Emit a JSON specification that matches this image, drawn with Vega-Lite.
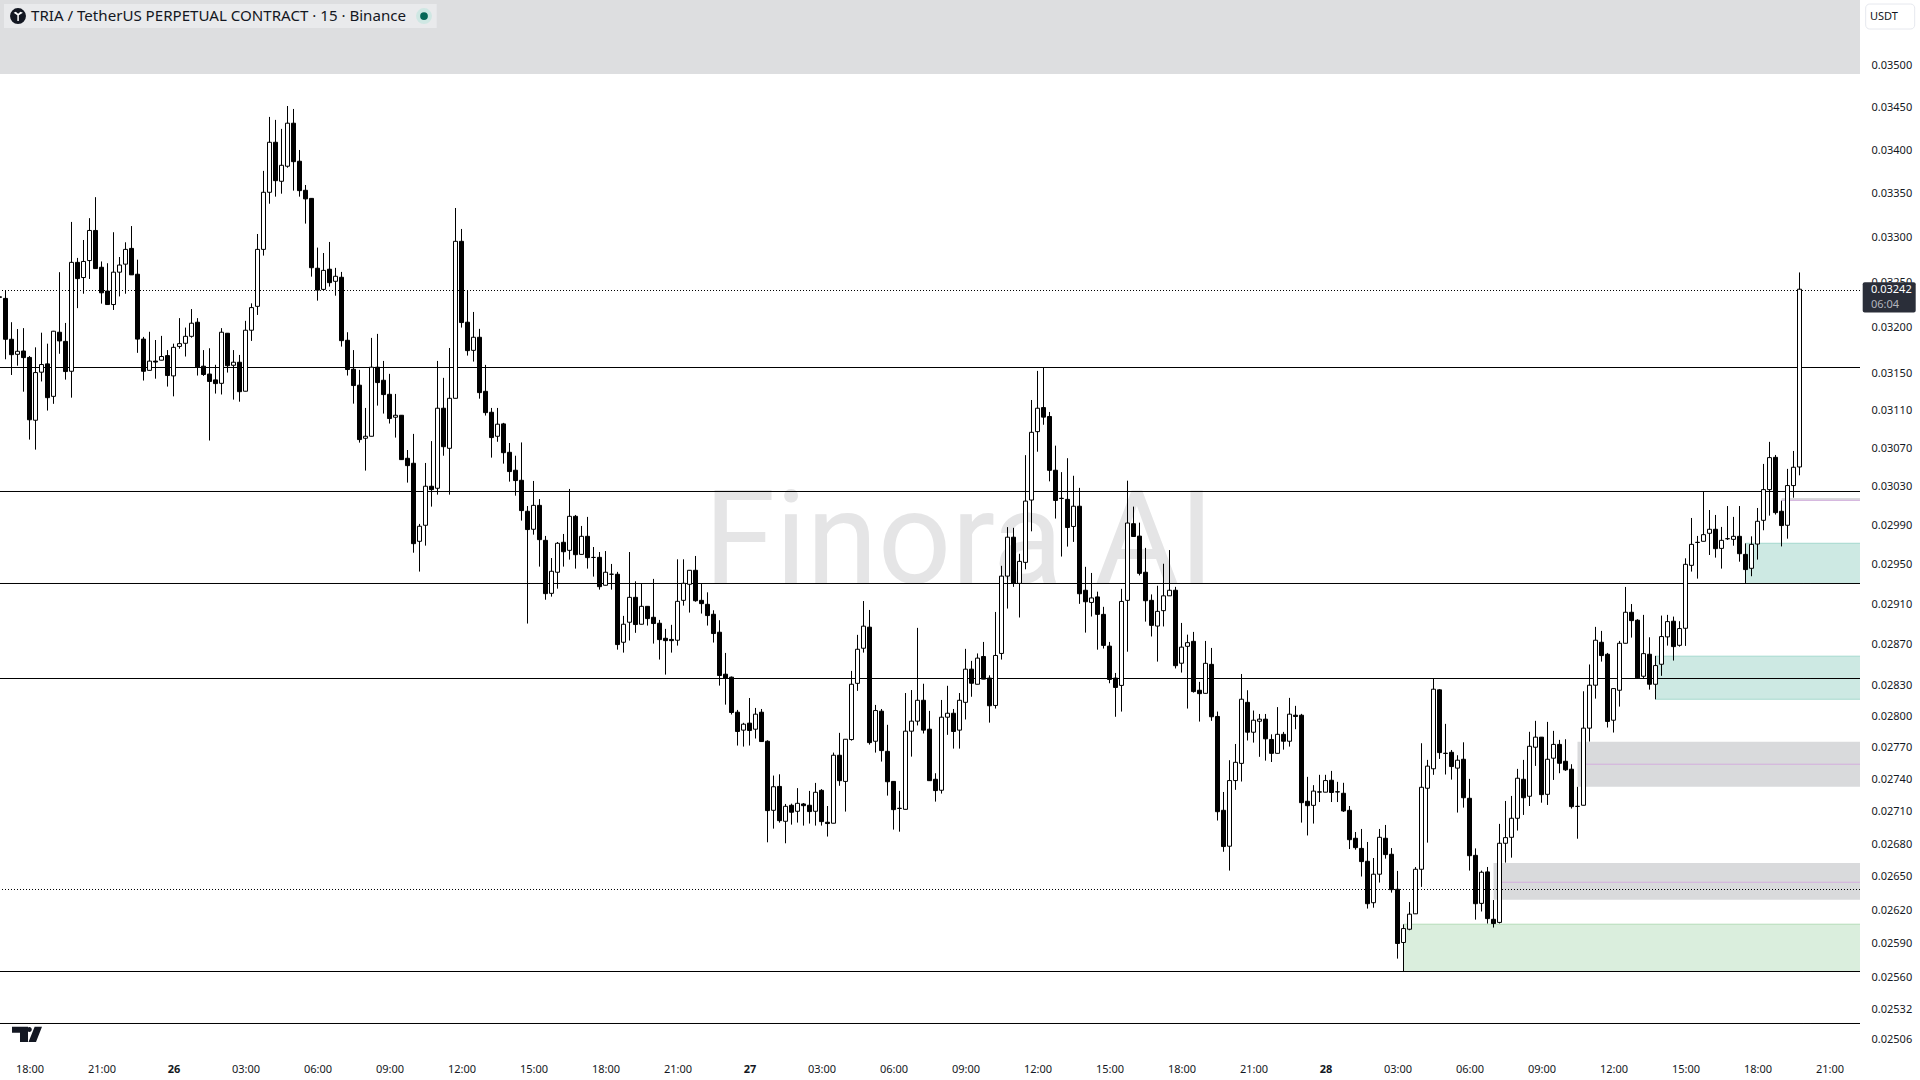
{
"$schema":"https://vega.github.io/schema/vega-lite/v6.json",
"autosize":{"type":"none"},
"width":1860,"height":1050,
"padding":{"left":0,"top":0,"right":60,"bottom":30},
"background":"#ffffff",
"config":{"view":{"stroke":null},"scale":{"continuousPadding":0}},
"datasets":{
"zones":[
{"t0":"2026-01-25T16:46:15Z","t1":"2026-01-28T22:16:15Z","top":0.03580149,"bottom":0.034904,"kind":"header"},
{"t0":"2026-01-28T03:15Z","t1":"2026-01-28T22:16:15Z","top":0.026074,"bottom":0.025654,"kind":"green"},
{"t0":"2026-01-28T07:00Z","t1":"2026-01-28T22:16:15Z","top":0.026628,"bottom":0.026294,"kind":"grey"},
{"t0":"2026-01-28T10:30Z","t1":"2026-01-28T22:16:15Z","top":0.027757,"bottom":0.027334,"kind":"grey"},
{"t0":"2026-01-28T13:45Z","t1":"2026-01-28T22:16:15Z","top":0.028585,"bottom":0.028166,"kind":"teal"},
{"t0":"2026-01-28T17:30Z","t1":"2026-01-28T22:16:15Z","top":0.029714,"bottom":0.029309,"kind":"teal"},
{"t0":"2026-01-28T19:00Z","t1":"2026-01-28T22:16:15Z","top":0.03018,"bottom":0.03015,"kind":"grey"}
],
"edges":[
{"t0":"2026-01-28T03:15Z","t1":"2026-01-28T22:16:15Z","p":0.026074,"kind":"greenEdge"},
{"t0":"2026-01-28T13:45Z","t1":"2026-01-28T22:16:15Z","p":0.028585,"kind":"tealEdge"},
{"t0":"2026-01-28T13:45Z","t1":"2026-01-28T22:16:15Z","p":0.028166,"kind":"tealEdge"},
{"t0":"2026-01-28T17:30Z","t1":"2026-01-28T22:16:15Z","p":0.029714,"kind":"tealEdge"},
{"t0":"2026-01-28T07:15Z","t1":"2026-01-28T22:16:15Z","p":0.026452,"kind":"purple"},
{"t0":"2026-01-28T10:45Z","t1":"2026-01-28T22:16:15Z","p":0.027545,"kind":"purple"},
{"t0":"2026-01-28T19:00Z","t1":"2026-01-28T22:16:15Z","p":0.030155,"kind":"purple"}
],
"levels":[
{"p":0.0324056,"style":"dotted"},
{"p":0.0315608,"style":"solid"},
{"p":0.0302465,"style":"solid"},
{"p":0.0293068,"style":"solid"},
{"p":0.0283670,"style":"solid"},
{"p":0.0263863,"style":"dotted"},
{"p":0.0256543,"style":"solid"},
{"p":0.0252008,"style":"solid"}
],
"candles":[
{"t":"2026-01-25T16:45Z","o":0.032335,"h":0.032335,"l":0.03233,"c":0.03233},
{"t":"2026-01-25T17:00Z","o":0.032318,"h":0.0324,"l":0.03165,"c":0.031868},
{"t":"2026-01-25T17:15Z","o":0.031868,"h":0.032055,"l":0.03148,"c":0.0317},
{"t":"2026-01-25T17:30Z","o":0.031704,"h":0.03198,"l":0.03158,"c":0.031737},
{"t":"2026-01-25T17:45Z","o":0.03174,"h":0.03199,"l":0.0313,"c":0.031668},
{"t":"2026-01-25T18:00Z","o":0.03167,"h":0.031686,"l":0.03079,"c":0.031},
{"t":"2026-01-25T18:15Z","o":0.030995,"h":0.03178,"l":0.030684,"c":0.031506},
{"t":"2026-01-25T18:30Z","o":0.03151,"h":0.03194,"l":0.03141,"c":0.031593},
{"t":"2026-01-25T18:45Z","o":0.0316,"h":0.03182,"l":0.031098,"c":0.031236},
{"t":"2026-01-25T19:00Z","o":0.03125,"h":0.03196,"l":0.03117,"c":0.031956},
{"t":"2026-01-25T19:15Z","o":0.031945,"h":0.03261,"l":0.03171,"c":0.03185},
{"t":"2026-01-25T19:30Z","o":0.031845,"h":0.032047,"l":0.03143,"c":0.031517},
{"t":"2026-01-25T19:45Z","o":0.03152,"h":0.033177,"l":0.031236,"c":0.03272},
{"t":"2026-01-25T20:00Z","o":0.03272,"h":0.03277,"l":0.03221,"c":0.032538},
{"t":"2026-01-25T20:15Z","o":0.03255,"h":0.032972,"l":0.03237,"c":0.03273},
{"t":"2026-01-25T20:30Z","o":0.03274,"h":0.03322,"l":0.032534,"c":0.03308},
{"t":"2026-01-25T20:45Z","o":0.03308,"h":0.03346,"l":0.03265,"c":0.03265},
{"t":"2026-01-25T21:00Z","o":0.032665,"h":0.03273,"l":0.03226,"c":0.03238},
{"t":"2026-01-25T21:15Z","o":0.0324,"h":0.03271,"l":0.03225,"c":0.03225},
{"t":"2026-01-25T21:30Z","o":0.03225,"h":0.03306,"l":0.03219,"c":0.03261},
{"t":"2026-01-25T21:45Z","o":0.03261,"h":0.03278,"l":0.03234,"c":0.03269},
{"t":"2026-01-25T22:00Z","o":0.0327,"h":0.032946,"l":0.03237,"c":0.032866},
{"t":"2026-01-25T22:15Z","o":0.032877,"h":0.03313,"l":0.03258,"c":0.03258},
{"t":"2026-01-25T22:30Z","o":0.032587,"h":0.03275,"l":0.03172,"c":0.03187},
{"t":"2026-01-25T22:45Z","o":0.03187,"h":0.031894,"l":0.03142,"c":0.03152},
{"t":"2026-01-25T23:00Z","o":0.03153,"h":0.03195,"l":0.03153,"c":0.03163},
{"t":"2026-01-25T23:15Z","o":0.03163,"h":0.03186,"l":0.03144,"c":0.03162},
{"t":"2026-01-25T23:30Z","o":0.03164,"h":0.031905,"l":0.03164,"c":0.03168},
{"t":"2026-01-25T23:45Z","o":0.03169,"h":0.03175,"l":0.031355,"c":0.031474},
{"t":"2026-01-26T00:00Z","o":0.03147,"h":0.03182,"l":0.03125,"c":0.03178},
{"t":"2026-01-26T00:15Z","o":0.03179,"h":0.0321,"l":0.031765,"c":0.03182},
{"t":"2026-01-26T00:30Z","o":0.031824,"h":0.031996,"l":0.03168,"c":0.0319},
{"t":"2026-01-26T00:45Z","o":0.0319,"h":0.0322,"l":0.031886,"c":0.032044},
{"t":"2026-01-26T01:00Z","o":0.032055,"h":0.0321,"l":0.031474,"c":0.031567},
{"t":"2026-01-26T01:15Z","o":0.031575,"h":0.03175,"l":0.03147,"c":0.031485},
{"t":"2026-01-26T01:30Z","o":0.03149,"h":0.03177,"l":0.03078,"c":0.03141},
{"t":"2026-01-26T01:45Z","o":0.031427,"h":0.03159,"l":0.03128,"c":0.031387},
{"t":"2026-01-26T02:00Z","o":0.03139,"h":0.03199,"l":0.03127,"c":0.031945},
{"t":"2026-01-26T02:15Z","o":0.031934,"h":0.031934,"l":0.031506,"c":0.03158},
{"t":"2026-01-26T02:30Z","o":0.031585,"h":0.03175,"l":0.031215,"c":0.031618},
{"t":"2026-01-26T02:45Z","o":0.031618,"h":0.031697,"l":0.031193,"c":0.0313},
{"t":"2026-01-26T03:00Z","o":0.031305,"h":0.03207,"l":0.031305,"c":0.031967},
{"t":"2026-01-26T03:15Z","o":0.031967,"h":0.032263,"l":0.03185,"c":0.032216},
{"t":"2026-01-26T03:30Z","o":0.03223,"h":0.03304,"l":0.032135,"c":0.032866},
{"t":"2026-01-26T03:45Z","o":0.032866,"h":0.033763,"l":0.032796,"c":0.033516},
{"t":"2026-01-26T04:00Z","o":0.033516,"h":0.034394,"l":0.033385,"c":0.034096},
{"t":"2026-01-26T04:15Z","o":0.034096,"h":0.034359,"l":0.033466,"c":0.03365},
{"t":"2026-01-26T04:30Z","o":0.033643,"h":0.034253,"l":0.0335,"c":0.033828},
{"t":"2026-01-26T04:45Z","o":0.033817,"h":0.034523,"l":0.0338,"c":0.03432},
{"t":"2026-01-26T05:00Z","o":0.03432,"h":0.034488,"l":0.033535,"c":0.03387},
{"t":"2026-01-26T05:15Z","o":0.033875,"h":0.034006,"l":0.033466,"c":0.033535},
{"t":"2026-01-26T05:30Z","o":0.033539,"h":0.0336,"l":0.033158,"c":0.03344},
{"t":"2026-01-26T05:45Z","o":0.033446,"h":0.033446,"l":0.03256,"c":0.03266},
{"t":"2026-01-26T06:00Z","o":0.032654,"h":0.032886,"l":0.032293,"c":0.03241},
{"t":"2026-01-26T06:15Z","o":0.032418,"h":0.032825,"l":0.032403,"c":0.03263},
{"t":"2026-01-26T06:30Z","o":0.032643,"h":0.03295,"l":0.032449,"c":0.032493},
{"t":"2026-01-26T06:45Z","o":0.032508,"h":0.032658,"l":0.032348,"c":0.032564},
{"t":"2026-01-26T07:00Z","o":0.032553,"h":0.032613,"l":0.031788,"c":0.031853},
{"t":"2026-01-26T07:15Z","o":0.031857,"h":0.031945,"l":0.031474,"c":0.031539},
{"t":"2026-01-26T07:30Z","o":0.031542,"h":0.03175,"l":0.031172,"c":0.031366},
{"t":"2026-01-26T07:45Z","o":0.03137,"h":0.031535,"l":0.030758,"c":0.03079},
{"t":"2026-01-26T08:00Z","o":0.030804,"h":0.031126,"l":0.030464,"c":0.030825},
{"t":"2026-01-26T08:15Z","o":0.030825,"h":0.031883,"l":0.030825,"c":0.031564},
{"t":"2026-01-26T08:30Z","o":0.031564,"h":0.031927,"l":0.031151,"c":0.031398},
{"t":"2026-01-26T08:45Z","o":0.031423,"h":0.031632,"l":0.031066,"c":0.031269},
{"t":"2026-01-26T09:00Z","o":0.031272,"h":0.031492,"l":0.03096,"c":0.031013},
{"t":"2026-01-26T09:15Z","o":0.031027,"h":0.031276,"l":0.030811,"c":0.031048},
{"t":"2026-01-26T09:30Z","o":0.031048,"h":0.031048,"l":0.030579,"c":0.030579},
{"t":"2026-01-26T09:45Z","o":0.030593,"h":0.03068,"l":0.030339,"c":0.030516},
{"t":"2026-01-26T10:00Z","o":0.030541,"h":0.03085,"l":0.029618,"c":0.02971},
{"t":"2026-01-26T10:15Z","o":0.029734,"h":0.029912,"l":0.029427,"c":0.029888},
{"t":"2026-01-26T10:30Z","o":0.029898,"h":0.030544,"l":0.02969,"c":0.030301},
{"t":"2026-01-26T10:45Z","o":0.030301,"h":0.030774,"l":0.03009,"c":0.030266},
{"t":"2026-01-26T11:00Z","o":0.03028,"h":0.031632,"l":0.030214,"c":0.031123},
{"t":"2026-01-26T11:15Z","o":0.031123,"h":0.031449,"l":0.03062,"c":0.030715},
{"t":"2026-01-26T11:30Z","o":0.030698,"h":0.031773,"l":0.030214,"c":0.031229},
{"t":"2026-01-26T11:45Z","o":0.031229,"h":0.033336,"l":0.031229,"c":0.032957},
{"t":"2026-01-26T12:00Z","o":0.032957,"h":0.033097,"l":0.031996,"c":0.032051},
{"t":"2026-01-26T12:15Z","o":0.032055,"h":0.0324,"l":0.03169,"c":0.031744},
{"t":"2026-01-26T12:30Z","o":0.031747,"h":0.032168,"l":0.031625,"c":0.03189},
{"t":"2026-01-26T12:45Z","o":0.03189,"h":0.031982,"l":0.031225,"c":0.03129},
{"t":"2026-01-26T13:00Z","o":0.031304,"h":0.031589,"l":0.031045,"c":0.031076},
{"t":"2026-01-26T13:15Z","o":0.03108,"h":0.031126,"l":0.0306,"c":0.030811},
{"t":"2026-01-26T13:30Z","o":0.030825,"h":0.031126,"l":0.030767,"c":0.030953},
{"t":"2026-01-26T13:45Z","o":0.030956,"h":0.030967,"l":0.030537,"c":0.030652},
{"t":"2026-01-26T14:00Z","o":0.030656,"h":0.030754,"l":0.030349,"c":0.030454},
{"t":"2026-01-26T14:15Z","o":0.030468,"h":0.03062,"l":0.030203,"c":0.03036},
{"t":"2026-01-26T14:30Z","o":0.030363,"h":0.03076,"l":0.029946,"c":0.030049},
{"t":"2026-01-26T14:45Z","o":0.030042,"h":0.030096,"l":0.028907,"c":0.029854},
{"t":"2026-01-26T15:00Z","o":0.029857,"h":0.030356,"l":0.029802,"c":0.030103},
{"t":"2026-01-26T15:15Z","o":0.030103,"h":0.030168,"l":0.029477,"c":0.029751},
{"t":"2026-01-26T15:30Z","o":0.029744,"h":0.029789,"l":0.029144,"c":0.029205},
{"t":"2026-01-26T15:45Z","o":0.029208,"h":0.029564,"l":0.029175,"c":0.02943},
{"t":"2026-01-26T16:00Z","o":0.02942,"h":0.029727,"l":0.029255,"c":0.029714},
{"t":"2026-01-26T16:15Z","o":0.029724,"h":0.029809,"l":0.029477,"c":0.029628},
{"t":"2026-01-26T16:30Z","o":0.029642,"h":0.030273,"l":0.029548,"c":0.02999},
{"t":"2026-01-26T16:45Z","o":0.02999,"h":0.030004,"l":0.029457,"c":0.029598},
{"t":"2026-01-26T17:00Z","o":0.029601,"h":0.029891,"l":0.029601,"c":0.029785},
{"t":"2026-01-26T17:15Z","o":0.029785,"h":0.029984,"l":0.029457,"c":0.029568},
{"t":"2026-01-26T17:30Z","o":0.02957,"h":0.029676,"l":0.029376,"c":0.02957},
{"t":"2026-01-26T17:45Z","o":0.029571,"h":0.029625,"l":0.029245,"c":0.029275},
{"t":"2026-01-26T18:00Z","o":0.029289,"h":0.029635,"l":0.029289,"c":0.02942},
{"t":"2026-01-26T18:15Z","o":0.0294,"h":0.029504,"l":0.029245,"c":0.0294},
{"t":"2026-01-26T18:30Z","o":0.0294,"h":0.029424,"l":0.028649,"c":0.028699},
{"t":"2026-01-26T18:45Z","o":0.028722,"h":0.028983,"l":0.02862,"c":0.0289},
{"t":"2026-01-26T19:00Z","o":0.02892,"h":0.029625,"l":0.028739,"c":0.029168},
{"t":"2026-01-26T19:15Z","o":0.029168,"h":0.029329,"l":0.028815,"c":0.028897},
{"t":"2026-01-26T19:30Z","o":0.0289,"h":0.029309,"l":0.0289,"c":0.029078},
{"t":"2026-01-26T19:45Z","o":0.029078,"h":0.029078,"l":0.028887,"c":0.028956},
{"t":"2026-01-26T20:00Z","o":0.028969,"h":0.029353,"l":0.028709,"c":0.028907},
{"t":"2026-01-26T20:15Z","o":0.02891,"h":0.028943,"l":0.028552,"c":0.028748},
{"t":"2026-01-26T20:30Z","o":0.028761,"h":0.028854,"l":0.028405,"c":0.028738},
{"t":"2026-01-26T20:45Z","o":0.02875,"h":0.028894,"l":0.02862,"c":0.028738},
{"t":"2026-01-26T21:00Z","o":0.028742,"h":0.029551,"l":0.028689,"c":0.029128},
{"t":"2026-01-26T21:15Z","o":0.029138,"h":0.029551,"l":0.029085,"c":0.029309},
{"t":"2026-01-26T21:30Z","o":0.029299,"h":0.02944,"l":0.029016,"c":0.02944},
{"t":"2026-01-26T21:45Z","o":0.02944,"h":0.029585,"l":0.029124,"c":0.029134},
{"t":"2026-01-26T22:00Z","o":0.029138,"h":0.029309,"l":0.029006,"c":0.029105},
{"t":"2026-01-26T22:15Z","o":0.029098,"h":0.029218,"l":0.028887,"c":0.028986},
{"t":"2026-01-26T22:30Z","o":0.028999,"h":0.029039,"l":0.028719,"c":0.028808},
{"t":"2026-01-26T22:45Z","o":0.028821,"h":0.02894,"l":0.028298,"c":0.028396},
{"t":"2026-01-26T23:00Z","o":0.028409,"h":0.028617,"l":0.028114,"c":0.02837},
{"t":"2026-01-26T23:15Z","o":0.02838,"h":0.028386,"l":0.028019,"c":0.028038},
{"t":"2026-01-26T23:30Z","o":0.028041,"h":0.028063,"l":0.027722,"c":0.027856},
{"t":"2026-01-26T23:45Z","o":0.027869,"h":0.027939,"l":0.027712,"c":0.027926},
{"t":"2026-01-27T00:00Z","o":0.027936,"h":0.028178,"l":0.027722,"c":0.027866},
{"t":"2026-01-27T00:15Z","o":0.027878,"h":0.028082,"l":0.027789,"c":0.028022},
{"t":"2026-01-27T00:30Z","o":0.028041,"h":0.028072,"l":0.02776,"c":0.02776},
{"t":"2026-01-27T00:45Z","o":0.027763,"h":0.027772,"l":0.026817,"c":0.02711},
{"t":"2026-01-27T01:00Z","o":0.027113,"h":0.027438,"l":0.026943,"c":0.027333},
{"t":"2026-01-27T01:15Z","o":0.027336,"h":0.02745,"l":0.026999,"c":0.027017},
{"t":"2026-01-27T01:30Z","o":0.027011,"h":0.027172,"l":0.026808,"c":0.02715},
{"t":"2026-01-27T01:45Z","o":0.02716,"h":0.027175,"l":0.02698,"c":0.027095},
{"t":"2026-01-27T02:00Z","o":0.027104,"h":0.02732,"l":0.026999,"c":0.027178},
{"t":"2026-01-27T02:15Z","o":0.027172,"h":0.027181,"l":0.026971,"c":0.027156},
{"t":"2026-01-27T02:30Z","o":0.02716,"h":0.027294,"l":0.02699,"c":0.027101},
{"t":"2026-01-27T02:45Z","o":0.027104,"h":0.027369,"l":0.026971,"c":0.027281},
{"t":"2026-01-27T03:00Z","o":0.027299,"h":0.027311,"l":0.026971,"c":0.027008},
{"t":"2026-01-27T03:15Z","o":0.027002,"h":0.027153,"l":0.02687,"c":0.02699},
{"t":"2026-01-27T03:30Z","o":0.026993,"h":0.027655,"l":0.026993,"c":0.02763},
{"t":"2026-01-27T03:45Z","o":0.02763,"h":0.027843,"l":0.027342,"c":0.02739},
{"t":"2026-01-27T04:00Z","o":0.027383,"h":0.027782,"l":0.027101,"c":0.027782},
{"t":"2026-01-27T04:15Z","o":0.027779,"h":0.028441,"l":0.027769,"c":0.028311},
{"t":"2026-01-27T04:30Z","o":0.02832,"h":0.028795,"l":0.028247,"c":0.028653},
{"t":"2026-01-27T04:45Z","o":0.028663,"h":0.029131,"l":0.02862,"c":0.028881},
{"t":"2026-01-27T05:00Z","o":0.028871,"h":0.029042,"l":0.027731,"c":0.02775},
{"t":"2026-01-27T05:15Z","o":0.027763,"h":0.028111,"l":0.027655,"c":0.028057},
{"t":"2026-01-27T05:30Z","o":0.028051,"h":0.028072,"l":0.02757,"c":0.027674},
{"t":"2026-01-27T05:45Z","o":0.027667,"h":0.02792,"l":0.02725,"c":0.02738},
{"t":"2026-01-27T06:00Z","o":0.027383,"h":0.027383,"l":0.026934,"c":0.027119},
{"t":"2026-01-27T06:15Z","o":0.027132,"h":0.027294,"l":0.026915,"c":0.02713},
{"t":"2026-01-27T06:30Z","o":0.027122,"h":0.028226,"l":0.027122,"c":0.027859},
{"t":"2026-01-27T06:45Z","o":0.027859,"h":0.028255,"l":0.027617,"c":0.027955},
{"t":"2026-01-27T07:00Z","o":0.027955,"h":0.028864,"l":0.027914,"c":0.028156},
{"t":"2026-01-27T07:15Z","o":0.028156,"h":0.028316,"l":0.027837,"c":0.027869},
{"t":"2026-01-27T07:30Z","o":0.027878,"h":0.028054,"l":0.02739,"c":0.02739},
{"t":"2026-01-27T07:45Z","o":0.027403,"h":0.02746,"l":0.027194,"c":0.027297},
{"t":"2026-01-27T08:00Z","o":0.0273,"h":0.028159,"l":0.027269,"c":0.027993},
{"t":"2026-01-27T08:15Z","o":0.027993,"h":0.028296,"l":0.027824,"c":0.028031},
{"t":"2026-01-27T08:30Z","o":0.028031,"h":0.028072,"l":0.027693,"c":0.027856},
{"t":"2026-01-27T08:45Z","o":0.027869,"h":0.028226,"l":0.027693,"c":0.028156},
{"t":"2026-01-27T09:00Z","o":0.028136,"h":0.028657,"l":0.027971,"c":0.028458},
{"t":"2026-01-27T09:15Z","o":0.028458,"h":0.028539,"l":0.02819,"c":0.028321},
{"t":"2026-01-27T09:30Z","o":0.028311,"h":0.028612,"l":0.028311,"c":0.028566},
{"t":"2026-01-27T09:45Z","o":0.028582,"h":0.028725,"l":0.028361,"c":0.028361},
{"t":"2026-01-27T10:00Z","o":0.028371,"h":0.028398,"l":0.027941,"c":0.028103},
{"t":"2026-01-27T10:15Z","o":0.028106,"h":0.029022,"l":0.028076,"c":0.028592},
{"t":"2026-01-27T10:30Z","o":0.028612,"h":0.029485,"l":0.028552,"c":0.029381},
{"t":"2026-01-27T10:45Z","o":0.029381,"h":0.029879,"l":0.029056,"c":0.029776},
{"t":"2026-01-27T11:00Z","o":0.029776,"h":0.029872,"l":0.029273,"c":0.029308},
{"t":"2026-01-27T11:15Z","o":0.029308,"h":0.029607,"l":0.028967,"c":0.02953},
{"t":"2026-01-27T11:30Z","o":0.02952,"h":0.030626,"l":0.02945,"c":0.030147},
{"t":"2026-01-27T11:45Z","o":0.030158,"h":0.031211,"l":0.029836,"c":0.030867},
{"t":"2026-01-27T12:00Z","o":0.030874,"h":0.031524,"l":0.030662,"c":0.031123},
{"t":"2026-01-27T12:15Z","o":0.03113,"h":0.031565,"l":0.030947,"c":0.031028},
{"t":"2026-01-27T12:30Z","o":0.031035,"h":0.031083,"l":0.030352,"c":0.030467},
{"t":"2026-01-27T12:45Z","o":0.030468,"h":0.030726,"l":0.029967,"c":0.030154},
{"t":"2026-01-27T13:00Z","o":0.030176,"h":0.030448,"l":0.029579,"c":0.030174},
{"t":"2026-01-27T13:15Z","o":0.030165,"h":0.030594,"l":0.02968,"c":0.029875},
{"t":"2026-01-27T13:30Z","o":0.029886,"h":0.03041,"l":0.029728,"c":0.030094},
{"t":"2026-01-27T13:45Z","o":0.030094,"h":0.030284,"l":0.029103,"c":0.029204},
{"t":"2026-01-27T14:00Z","o":0.029239,"h":0.029475,"l":0.028817,"c":0.029124},
{"t":"2026-01-27T14:15Z","o":0.029117,"h":0.029413,"l":0.028977,"c":0.029162},
{"t":"2026-01-27T14:30Z","o":0.029172,"h":0.029225,"l":0.028649,"c":0.028998},
{"t":"2026-01-27T14:45Z","o":0.028998,"h":0.029073,"l":0.02866,"c":0.028691},
{"t":"2026-01-27T15:00Z","o":0.028684,"h":0.028725,"l":0.028321,"c":0.028358},
{"t":"2026-01-27T15:15Z","o":0.028371,"h":0.028421,"l":0.027997,"c":0.02828},
{"t":"2026-01-27T15:30Z","o":0.0283,"h":0.029253,"l":0.028047,"c":0.029127},
{"t":"2026-01-27T15:45Z","o":0.029138,"h":0.030359,"l":0.028629,"c":0.029921},
{"t":"2026-01-27T16:00Z","o":0.029914,"h":0.03009,"l":0.029783,"c":0.029783},
{"t":"2026-01-27T16:15Z","o":0.029787,"h":0.029925,"l":0.029388,"c":0.029409},
{"t":"2026-01-27T16:30Z","o":0.02942,"h":0.029667,"l":0.028926,"c":0.029134},
{"t":"2026-01-27T16:45Z","o":0.029138,"h":0.029197,"l":0.028779,"c":0.028889},
{"t":"2026-01-27T17:00Z","o":0.028882,"h":0.029284,"l":0.028532,"c":0.029028},
{"t":"2026-01-27T17:15Z","o":0.029035,"h":0.029506,"l":0.028878,"c":0.029183},
{"t":"2026-01-27T17:30Z","o":0.029183,"h":0.029645,"l":0.029183,"c":0.029239},
{"t":"2026-01-27T17:45Z","o":0.029239,"h":0.029273,"l":0.028465,"c":0.028492},
{"t":"2026-01-27T18:00Z","o":0.028516,"h":0.028913,"l":0.028425,"c":0.028674},
{"t":"2026-01-27T18:15Z","o":0.028682,"h":0.028797,"l":0.028076,"c":0.028718},
{"t":"2026-01-27T18:30Z","o":0.028731,"h":0.028824,"l":0.02823,"c":0.02824},
{"t":"2026-01-27T18:45Z","o":0.028253,"h":0.028334,"l":0.027951,"c":0.02822},
{"t":"2026-01-27T19:00Z","o":0.028223,"h":0.028735,"l":0.028223,"c":0.028515},
{"t":"2026-01-27T19:15Z","o":0.028505,"h":0.028666,"l":0.027958,"c":0.027997},
{"t":"2026-01-27T19:30Z","o":0.028,"h":0.028047,"l":0.027018,"c":0.0271},
{"t":"2026-01-27T19:45Z","o":0.027113,"h":0.027284,"l":0.02673,"c":0.026778},
{"t":"2026-01-27T20:00Z","o":0.026781,"h":0.027583,"l":0.026558,"c":0.027391},
{"t":"2026-01-27T20:15Z","o":0.027391,"h":0.027737,"l":0.027304,"c":0.027563},
{"t":"2026-01-27T20:30Z","o":0.027553,"h":0.028411,"l":0.027382,"c":0.028166},
{"t":"2026-01-27T20:45Z","o":0.028136,"h":0.028253,"l":0.02777,"c":0.027849},
{"t":"2026-01-27T21:00Z","o":0.027849,"h":0.028057,"l":0.02775,"c":0.027964},
{"t":"2026-01-27T21:15Z","o":0.027954,"h":0.028024,"l":0.027615,"c":0.027974},
{"t":"2026-01-27T21:30Z","o":0.027974,"h":0.028024,"l":0.027579,"c":0.027786},
{"t":"2026-01-27T21:45Z","o":0.02778,"h":0.027829,"l":0.027566,"c":0.027648},
{"t":"2026-01-27T22:00Z","o":0.027648,"h":0.02809,"l":0.027648,"c":0.027829},
{"t":"2026-01-27T22:15Z","o":0.027829,"h":0.027852,"l":0.027683,"c":0.027763},
{"t":"2026-01-27T22:30Z","o":0.027763,"h":0.028179,"l":0.027712,"c":0.028022},
{"t":"2026-01-27T22:45Z","o":0.028012,"h":0.028102,"l":0.027878,"c":0.028},
{"t":"2026-01-27T23:00Z","o":0.028012,"h":0.028025,"l":0.026999,"c":0.027184},
{"t":"2026-01-27T23:15Z","o":0.027197,"h":0.027426,"l":0.02688,"c":0.027156},
{"t":"2026-01-27T23:30Z","o":0.027159,"h":0.027348,"l":0.02699,"c":0.027292},
{"t":"2026-01-27T23:45Z","o":0.027285,"h":0.027445,"l":0.02719,"c":0.027283},
{"t":"2026-01-28T00:00Z","o":0.027282,"h":0.027445,"l":0.027282,"c":0.027391},
{"t":"2026-01-28T00:15Z","o":0.027394,"h":0.027482,"l":0.02719,"c":0.027279},
{"t":"2026-01-28T00:30Z","o":0.027286,"h":0.027379,"l":0.02719,"c":0.027284},
{"t":"2026-01-28T00:45Z","o":0.027272,"h":0.02737,"l":0.027098,"c":0.027107},
{"t":"2026-01-28T01:00Z","o":0.027113,"h":0.027153,"l":0.026755,"c":0.026841},
{"t":"2026-01-28T01:15Z","o":0.026854,"h":0.026912,"l":0.026749,"c":0.026768},
{"t":"2026-01-28T01:30Z","o":0.026761,"h":0.02694,"l":0.026504,"c":0.02664},
{"t":"2026-01-28T01:45Z","o":0.026643,"h":0.02682,"l":0.026214,"c":0.026258},
{"t":"2026-01-28T02:00Z","o":0.026267,"h":0.026673,"l":0.026222,"c":0.026525},
{"t":"2026-01-28T02:15Z","o":0.026525,"h":0.02694,"l":0.026449,"c":0.026863},
{"t":"2026-01-28T02:30Z","o":0.026854,"h":0.026977,"l":0.026667,"c":0.026704},
{"t":"2026-01-28T02:45Z","o":0.026707,"h":0.026764,"l":0.026358,"c":0.026385},
{"t":"2026-01-28T03:00Z","o":0.026388,"h":0.026555,"l":0.025768,"c":0.025902},
{"t":"2026-01-28T03:15Z","o":0.025911,"h":0.026073,"l":0.025654,"c":0.026035},
{"t":"2026-01-28T03:30Z","o":0.026029,"h":0.026273,"l":0.02602,"c":0.026164},
{"t":"2026-01-28T03:45Z","o":0.026167,"h":0.02659,"l":0.026167,"c":0.02657},
{"t":"2026-01-28T04:00Z","o":0.02657,"h":0.027744,"l":0.02641,"c":0.027328},
{"t":"2026-01-28T04:15Z","o":0.027319,"h":0.027586,"l":0.026814,"c":0.027527},
{"t":"2026-01-28T04:30Z","o":0.027502,"h":0.02837,"l":0.027445,"c":0.028263},
{"t":"2026-01-28T04:45Z","o":0.028257,"h":0.028263,"l":0.027595,"c":0.027655},
{"t":"2026-01-28T05:00Z","o":0.027649,"h":0.027929,"l":0.027448,"c":0.027647},
{"t":"2026-01-28T05:15Z","o":0.027658,"h":0.02768,"l":0.0274,"c":0.027523},
{"t":"2026-01-28T05:30Z","o":0.027508,"h":0.02763,"l":0.027092,"c":0.027583},
{"t":"2026-01-28T05:45Z","o":0.027592,"h":0.027753,"l":0.027138,"c":0.02723},
{"t":"2026-01-28T06:00Z","o":0.027225,"h":0.027407,"l":0.026558,"c":0.026694},
{"t":"2026-01-28T06:15Z","o":0.026697,"h":0.026761,"l":0.026115,"c":0.026258},
{"t":"2026-01-28T06:30Z","o":0.026261,"h":0.026558,"l":0.026188,"c":0.026543},
{"t":"2026-01-28T06:45Z","o":0.026546,"h":0.026591,"l":0.02608,"c":0.026124},
{"t":"2026-01-28T07:00Z","o":0.026118,"h":0.026291,"l":0.026044,"c":0.02608},
{"t":"2026-01-28T07:15Z","o":0.02609,"h":0.026987,"l":0.026081,"c":0.026808},
{"t":"2026-01-28T07:30Z","o":0.026808,"h":0.0272,"l":0.026631,"c":0.02686},
{"t":"2026-01-28T07:45Z","o":0.026863,"h":0.027247,"l":0.026676,"c":0.027039},
{"t":"2026-01-28T08:00Z","o":0.027039,"h":0.027501,"l":0.026925,"c":0.027413},
{"t":"2026-01-28T08:15Z","o":0.027403,"h":0.027586,"l":0.02707,"c":0.02723},
{"t":"2026-01-28T08:30Z","o":0.027244,"h":0.027853,"l":0.027153,"c":0.027715},
{"t":"2026-01-28T08:45Z","o":0.027706,"h":0.027958,"l":0.027529,"c":0.027802},
{"t":"2026-01-28T09:00Z","o":0.027802,"h":0.027802,"l":0.027184,"c":0.027259},
{"t":"2026-01-28T09:15Z","o":0.027262,"h":0.027948,"l":0.027163,"c":0.027592},
{"t":"2026-01-28T09:30Z","o":0.027602,"h":0.027862,"l":0.027397,"c":0.027733},
{"t":"2026-01-28T09:45Z","o":0.027733,"h":0.027776,"l":0.02746,"c":0.027554},
{"t":"2026-01-28T10:00Z","o":0.027573,"h":0.027782,"l":0.027482,"c":0.027492},
{"t":"2026-01-28T10:15Z","o":0.027498,"h":0.027545,"l":0.027129,"c":0.027147},
{"t":"2026-01-28T10:30Z","o":0.02715,"h":0.027332,"l":0.02685,"c":0.027149},
{"t":"2026-01-28T10:45Z","o":0.02716,"h":0.028243,"l":0.02716,"c":0.027888},
{"t":"2026-01-28T11:00Z","o":0.027888,"h":0.028504,"l":0.02776,"c":0.028302},
{"t":"2026-01-28T11:15Z","o":0.028302,"h":0.028874,"l":0.028172,"c":0.028742},
{"t":"2026-01-28T11:30Z","o":0.028722,"h":0.028834,"l":0.028532,"c":0.028591},
{"t":"2026-01-28T11:45Z","o":0.028604,"h":0.028617,"l":0.027894,"c":0.027952},
{"t":"2026-01-28T12:00Z","o":0.027964,"h":0.028269,"l":0.027846,"c":0.028269},
{"t":"2026-01-28T12:15Z","o":0.028253,"h":0.028735,"l":0.028095,"c":0.028712},
{"t":"2026-01-28T12:30Z","o":0.028712,"h":0.029272,"l":0.028712,"c":0.029019},
{"t":"2026-01-28T12:45Z","o":0.029019,"h":0.029101,"l":0.028768,"c":0.028936},
{"t":"2026-01-28T13:00Z","o":0.02894,"h":0.02895,"l":0.028373,"c":0.028373},
{"t":"2026-01-28T13:15Z","o":0.028389,"h":0.028993,"l":0.02837,"c":0.02861},
{"t":"2026-01-28T13:30Z","o":0.028604,"h":0.028771,"l":0.028259,"c":0.028311},
{"t":"2026-01-28T13:45Z","o":0.028311,"h":0.028588,"l":0.028165,"c":0.028493},
{"t":"2026-01-28T14:00Z","o":0.028506,"h":0.028986,"l":0.028393,"c":0.028778},
{"t":"2026-01-28T14:15Z","o":0.028775,"h":0.028993,"l":0.028689,"c":0.028926},
{"t":"2026-01-28T14:30Z","o":0.02893,"h":0.028976,"l":0.028542,"c":0.028679},
{"t":"2026-01-28T14:45Z","o":0.028692,"h":0.02893,"l":0.028679,"c":0.028857},
{"t":"2026-01-28T15:00Z","o":0.02886,"h":0.029561,"l":0.028686,"c":0.0295},
{"t":"2026-01-28T15:15Z","o":0.02949,"h":0.029973,"l":0.029427,"c":0.029703},
{"t":"2026-01-28T15:30Z","o":0.029724,"h":0.029789,"l":0.029356,"c":0.029722},
{"t":"2026-01-28T15:45Z","o":0.029734,"h":0.030249,"l":0.029734,"c":0.029802},
{"t":"2026-01-28T16:00Z","o":0.029816,"h":0.030055,"l":0.029595,"c":0.029857},
{"t":"2026-01-28T16:15Z","o":0.029857,"h":0.030004,"l":0.029568,"c":0.029659},
{"t":"2026-01-28T16:30Z","o":0.029662,"h":0.029881,"l":0.029457,"c":0.029744},
{"t":"2026-01-28T16:45Z","o":0.029761,"h":0.030096,"l":0.029748,"c":0.02976},
{"t":"2026-01-28T17:00Z","o":0.029754,"h":0.029984,"l":0.029689,"c":0.029785},
{"t":"2026-01-28T17:15Z","o":0.029785,"h":0.030096,"l":0.029527,"c":0.029608},
{"t":"2026-01-28T17:30Z","o":0.029601,"h":0.029713,"l":0.029309,"c":0.029447},
{"t":"2026-01-28T17:45Z","o":0.02946,"h":0.029785,"l":0.02938,"c":0.029703},
{"t":"2026-01-28T18:00Z","o":0.029706,"h":0.030076,"l":0.029548,"c":0.029939},
{"t":"2026-01-28T18:15Z","o":0.029949,"h":0.030534,"l":0.029847,"c":0.030266},
{"t":"2026-01-28T18:30Z","o":0.030266,"h":0.030766,"l":0.029997,"c":0.0306},
{"t":"2026-01-28T18:45Z","o":0.030603,"h":0.030628,"l":0.030008,"c":0.030028},
{"t":"2026-01-28T19:00Z","o":0.030042,"h":0.030151,"l":0.029682,"c":0.029895},
{"t":"2026-01-28T19:15Z","o":0.029898,"h":0.030482,"l":0.029761,"c":0.030308},
{"t":"2026-01-28T19:30Z","o":0.030308,"h":0.03067,"l":0.030182,"c":0.030499},
{"t":"2026-01-28T19:45Z","o":0.030502,"h":0.032607,"l":0.030415,"c":0.03242}
]
},
"layer":[
{"data":{"name":"zones"},"mark":{"type":"rect"},"encoding":{
"x":{"field":"t0","type":"temporal","title":null,"scale":{"type":"utc","domain":[1769359575000,1769638575000]},"axis":{"title":null,"domain":false,"ticks":false,"grid":false,"labelFont":"Noto Sans","labelFontSize":11,"labelColor":"#131722","labelPadding":13,"values":[1769364000000,1769374800000,1769385600000,1769396400000,1769407200000,1769418000000,1769428800000,1769439600000,1769450400000,1769461200000,1769472000000,1769482800000,1769493600000,1769504400000,1769515200000,1769526000000,1769536800000,1769547600000,1769558400000,1769569200000,1769580000000,1769590800000,1769601600000,1769612400000,1769623200000,1769634000000],"labelExpr":"utchours(datum.value)==0?utcFormat(datum.value,'%d'):utcFormat(datum.value,'%H:%M')","labelFontWeight":{"condition":{"test":"utchours(datum.value)==0","value":"bold"},"value":"normal"},"labelFlush":false,"labelOverlap":false}},
"x2":{"field":"t1"},
"y":{"field":"top","type":"quantitative","title":null,"scale":{"type":"log","domain":[0.02497271,0.03580149],"nice":false},"axis":{"title":null,"orient":"right","domain":false,"ticks":false,"grid":false,"labelFont":"Noto Sans","labelFontSize":11,"labelColor":"#131722","labelPadding":11,"format":".5f","labelOverlap":false,"labelFlush":false,"values":[0.035,0.0345,0.034,0.0335,0.033,0.0325,0.032,0.0315,0.0311,0.0307,0.0303,0.0299,0.0295,0.0291,0.0287,0.0283,0.028,0.0277,0.0274,0.0271,0.0268,0.0265,0.0262,0.0259,0.0256,0.02532,0.02506]}},
"y2":{"field":"bottom"},
"color":{"field":"kind","type":"nominal","legend":null,"scale":{"domain":["header","grey","green","teal","greenEdge","tealEdge","purple"],"range":["#dddee0","#d9dadc","#daeedd","#cde9e3","#b4dcb9","#a5d9ce","#d3aede"]}}
}},
{"data":{"name":"edges"},"mark":{"type":"rule","strokeWidth":1},"encoding":{
"x":{"field":"t0","type":"temporal","title":null,"scale":{"type":"utc","domain":[1769359575000,1769638575000]}},
"x2":{"field":"t1"},
"y":{"field":"p","type":"quantitative","title":null,"scale":{"type":"log","domain":[0.02497271,0.03580149],"nice":false}},
"color":{"field":"kind","type":"nominal","legend":null,"scale":{"domain":["header","grey","green","teal","greenEdge","tealEdge","purple"],"range":["#dddee0","#d9dadc","#daeedd","#cde9e3","#b4dcb9","#a5d9ce","#d3aede"]}}
}},
{"data":{"values":[{"t":"2026-01-27T08:43:45Z","p":0.0293068,"label":"Finora AI"}]},"mark":{"type":"text","font":"Roboto","fontSize":129,"align":"center","baseline":"alphabetic","color":"#e5e5e6"},"encoding":{
"x":{"field":"t","type":"temporal","title":null,"scale":{"type":"utc","domain":[1769359575000,1769638575000]}},
"y":{"field":"p","type":"quantitative","title":null,"scale":{"type":"log","domain":[0.02497271,0.03580149],"nice":false}},
"text":{"field":"label"}
}},
{"data":{"name":"levels"},"mark":{"type":"rule","strokeWidth":1,"color":"#000000"},"encoding":{
"y":{"field":"p","type":"quantitative","title":null,"scale":{"type":"log","domain":[0.02497271,0.03580149],"nice":false}},
"strokeDash":{"field":"style","type":"nominal","legend":null,"scale":{"domain":["solid","dotted"],"range":[[1,0],[1,2]]}}
}},
{"data":{"name":"candles"},"mark":{"type":"rule","strokeWidth":1,"color":"#000000"},"encoding":{
"x":{"field":"t","type":"temporal","title":null,"scale":{"type":"utc","domain":[1769359575000,1769638575000]}},
"y":{"field":"l","type":"quantitative","title":null,"scale":{"type":"log","domain":[0.02497271,0.03580149],"nice":false}},
"y2":{"field":"h"}
}},
{"data":{"name":"candles"},"mark":{"type":"bar","width":4,"strokeWidth":1},"encoding":{
"x":{"field":"t","type":"temporal","title":null,"scale":{"type":"utc","domain":[1769359575000,1769638575000]}},
"y":{"field":"o","type":"quantitative","title":null,"scale":{"type":"log","domain":[0.02497271,0.03580149],"nice":false}},
"y2":{"field":"c"},
"fill":{"condition":{"test":"datum.c<datum.o","value":"#000000"},"value":"#ffffff"},
"stroke":{"value":"#000000"}
}},
{"data":{"values":[{"t0":"2026-01-25T16:56:15Z","t1":"2026-01-26T10:58:00Z","top":0.035752,"bottom":0.035459}]},"mark":{"type":"rect","color":"#e9eaec"},"encoding":{
"x":{"field":"t0","type":"temporal","title":null,"scale":{"type":"utc","domain":[1769359575000,1769638575000]}},
"x2":{"field":"t1"},
"y":{"field":"top","type":"quantitative","title":null,"scale":{"type":"log","domain":[0.02497271,0.03580149],"nice":false}},
"y2":{"field":"bottom"}
}},
{"data":{"values":[{"t0":"2026-01-28T22:23:00Z","t1":"2026-01-29T00:35:30Z","top":0.032498,"bottom":0.032161}]},"mark":{"type":"rect","color":"#2a2e39","cornerRadius":2},"encoding":{
"x":{"field":"t0","type":"temporal","title":null,"scale":{"type":"utc","domain":[1769359575000,1769638575000]}},
"x2":{"field":"t1"},
"y":{"field":"top","type":"quantitative","title":null,"scale":{"type":"log","domain":[0.02497271,0.03580149],"nice":false}},
"y2":{"field":"bottom"}
}},
{"data":{"values":[{"t0":"2026-01-28T22:30:30Z","t1":"2026-01-29T00:33:00Z","top":0.035752,"bottom":0.035447}]},"mark":{"type":"rect","fill":"#ffffff","stroke":"#e6e8ee","strokeWidth":1,"cornerRadius":4},"encoding":{
"x":{"field":"t0","type":"temporal","title":null,"scale":{"type":"utc","domain":[1769359575000,1769638575000]}},
"x2":{"field":"t1"},
"y":{"field":"top","type":"quantitative","title":null,"scale":{"type":"log","domain":[0.02497271,0.03580149],"nice":false}},
"y2":{"field":"bottom"}
}},
{"data":{"values":[{"t":"2026-01-25T17:31:15Z","p":0.035605}]},"mark":{"type":"point","filled":true,"size":254,"shape":"circle","color":"#131722","opacity":1},"encoding":{
"x":{"field":"t","type":"temporal","title":null,"scale":{"type":"utc","domain":[1769359575000,1769638575000]}},
"y":{"field":"p","type":"quantitative","title":null,"scale":{"type":"log","domain":[0.02497271,0.03580149],"nice":false}}
}},
{"data":{"values":[{"t":"2026-01-25T17:31:15Z","p":0.035605}]},"mark":{"type":"point","filled":true,"size":120,"shape":"M-0.8,-0.6 L-0.12,-0.15 L-0.12,0.9 L0.15,0.9 L0.15,-0.15 L0.9,-0.6 L0.45,-0.8 L0.02,-0.4 L-0.4,-0.8 Z","color":"#ffffff","opacity":1},"encoding":{
"x":{"field":"t","type":"temporal","title":null,"scale":{"type":"utc","domain":[1769359575000,1769638575000]}},
"y":{"field":"p","type":"quantitative","title":null,"scale":{"type":"log","domain":[0.02497271,0.03580149],"nice":false}}
}},
{"data":{"values":[{"t":"2026-01-26T10:26:15Z","p":0.035605}]},"mark":{"type":"point","filled":true,"size":254,"shape":"circle","color":"#cfe7e3","opacity":1},"encoding":{
"x":{"field":"t","type":"temporal","title":null,"scale":{"type":"utc","domain":[1769359575000,1769638575000]}},
"y":{"field":"p","type":"quantitative","title":null,"scale":{"type":"log","domain":[0.02497271,0.03580149],"nice":false}}
}},
{"data":{"values":[{"t":"2026-01-26T10:26:15Z","p":0.035605}]},"mark":{"type":"point","filled":true,"size":60,"shape":"circle","color":"#056656","opacity":1},"encoding":{
"x":{"field":"t","type":"temporal","title":null,"scale":{"type":"utc","domain":[1769359575000,1769638575000]}},
"y":{"field":"p","type":"quantitative","title":null,"scale":{"type":"log","domain":[0.02497271,0.03580149],"nice":false}}
}},
{"data":{"values":[{"t":"2026-01-25T18:03:45Z","p":0.035605,"label":"TRIA / TetherUS PERPETUAL CONTRACT · 15 · Binance"}]},"mark":{"type":"text","font":"Noto Sans","fontSize":15.1,"align":"left","baseline":"middle","color":"#131722"},"encoding":{
"x":{"field":"t","type":"temporal","title":null,"scale":{"type":"utc","domain":[1769359575000,1769638575000]}},
"y":{"field":"p","type":"quantitative","title":null,"scale":{"type":"log","domain":[0.02497271,0.03580149],"nice":false}},
"text":{"field":"label"}
}},
{"data":{"values":[{"t":"2026-01-28T22:41:15Z","p":0.035593,"label":"USDT"}]},"mark":{"type":"text","font":"Noto Sans","fontSize":11,"align":"left","baseline":"middle","color":"#131722"},"encoding":{
"x":{"field":"t","type":"temporal","title":null,"scale":{"type":"utc","domain":[1769359575000,1769638575000]}},
"y":{"field":"p","type":"quantitative","title":null,"scale":{"type":"log","domain":[0.02497271,0.03580149],"nice":false}},
"text":{"field":"label"}
}},
{"data":{"values":[{"t":"2026-01-28T22:43:45Z","p":0.03241,"label":"0.03242"}]},"mark":{"type":"text","font":"Noto Sans","fontSize":11,"align":"left","baseline":"middle","color":"#ffffff"},"encoding":{
"x":{"field":"t","type":"temporal","title":null,"scale":{"type":"utc","domain":[1769359575000,1769638575000]}},
"y":{"field":"p","type":"quantitative","title":null,"scale":{"type":"log","domain":[0.02497271,0.03580149],"nice":false}},
"text":{"field":"label"}
}},
{"data":{"values":[{"t":"2026-01-28T22:43:45Z","p":0.03225,"label":"06:04"}]},"mark":{"type":"text","font":"Noto Sans","fontSize":11,"align":"left","baseline":"middle","color":"#b2b5be"},"encoding":{
"x":{"field":"t","type":"temporal","title":null,"scale":{"type":"utc","domain":[1769359575000,1769638575000]}},
"y":{"field":"p","type":"quantitative","title":null,"scale":{"type":"log","domain":[0.02497271,0.03580149],"nice":false}},
"text":{"field":"label"}
}},
{"data":{"values":[{"t":"2026-01-25T17:53:45Z","p":0.025105}]},"mark":{"type":"point","filled":true,"size":900,"color":"#131722","opacity":1,"shape":"M-1,-0.52 L0.067,-0.52 L0.067,0.5 L-0.467,0.5 L-0.467,-0.12 L-1,-0.12 Z M0,-0.34 A0.16,0.16 0 1,1 0.32,-0.34 A0.16,0.16 0 1,1 0,-0.34 Z M0.51,-0.52 L1,-0.52 L0.6,0.5 L0.1,0.5 Z"},"encoding":{
"x":{"field":"t","type":"temporal","title":null,"scale":{"type":"utc","domain":[1769359575000,1769638575000]}},
"y":{"field":"p","type":"quantitative","title":null,"scale":{"type":"log","domain":[0.02497271,0.03580149],"nice":false}}
}}
]
}
